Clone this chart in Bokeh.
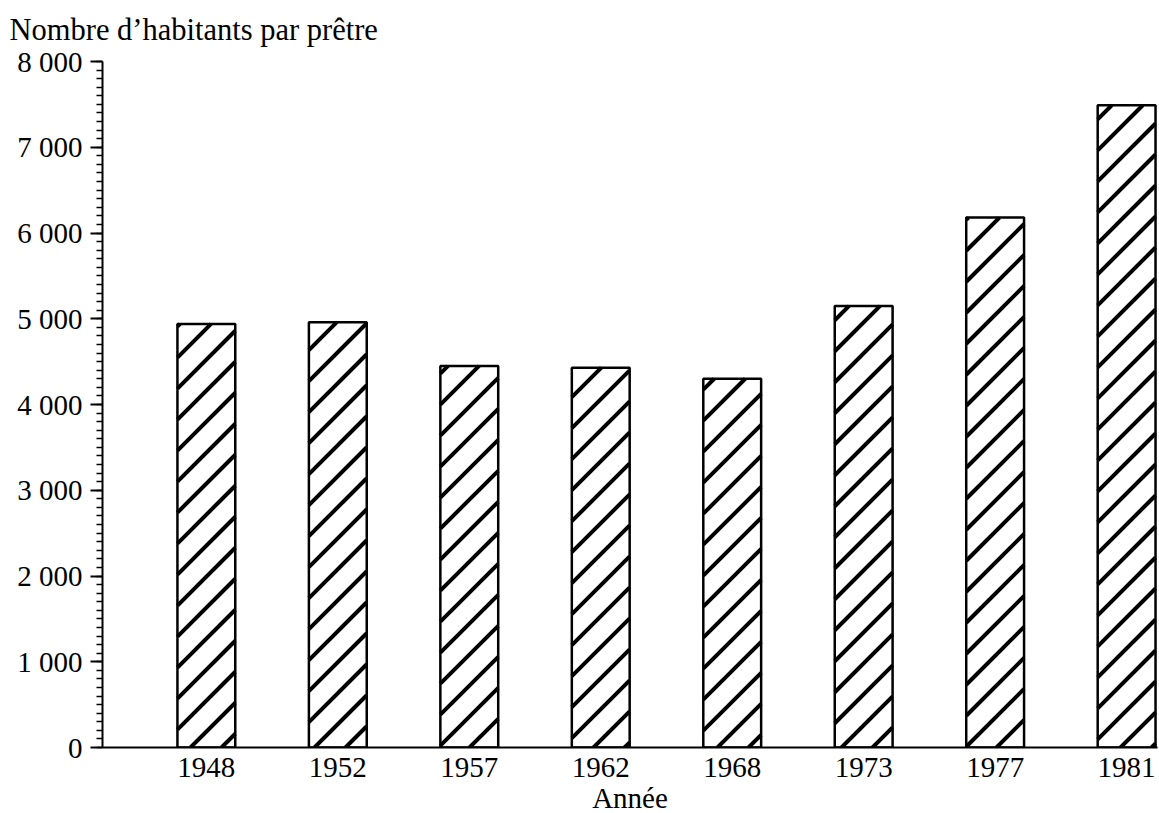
from bokeh.plotting import figure
from bokeh.models import Range1d, FixedTicker, SingleIntervalTicker, Title, ColumnDataSource
from bokeh.embed import file_html
from bokeh.resources import INLINE

years = ["1948", "1952", "1957", "1962", "1968", "1973", "1977", "1981"]
habitants = [4940, 4960, 4450, 4430, 4300, 5150, 6180, 7490]
y_ticks = [0, 1000, 2000, 3000, 4000, 5000, 6000, 7000, 8000]
y_tick_labels = ["0", "1 000", "2 000", "3 000", "4 000", "5 000", "6 000", "7 000", "8 000"]

FONT = "Liberation Serif"

# layout (pixels) and ranges
W, H = 1159, 813
FL, FR, FT, FB = 102, 1157, 61, 747
X0, X1 = -0.79, 7.235
Y0, Y1 = 0, 8000
BAR_W = 0.44
HATCH_STEP = 31      # px between hatch lines (horizontal / vertical period)
HATCH_PHASE = 7

idx = list(range(len(years)))
src = ColumnDataSource(dict(x=idx, top=habitants, year=years))

# 45-degree hatch lines, computed in pixel space and mapped back to data space
ppx = (FR - FL) / (X1 - X0)
ppy = (FB - FT) / (Y1 - Y0)
hx0, hy0, hx1, hy1 = [], [], [], []
for i, v in zip(idx, habitants):
    px0 = FL + (i - BAR_W / 2 - X0) * ppx
    px1 = FL + (i + BAR_W / 2 - X0) * ppx
    py0 = FB - (v - Y0) * ppy   # top (screen)
    py1 = FB                    # bottom (screen)
    kmin = int((px0 + py0 - HATCH_PHASE) // HATCH_STEP)
    kmax = int((px1 + py1 - HATCH_PHASE) // HATCH_STEP) + 1
    for k in range(kmin, kmax + 1):
        c = k * HATCH_STEP + HATCH_PHASE
        lo = max(px0, c - py1)
        hi = min(px1, c - py0)
        if hi - lo > 0.5:
            hx0.append(X0 + (lo - FL) / ppx)
            hy0.append(Y0 + (FB - (c - lo)) / ppy)
            hx1.append(X0 + (hi - FL) / ppx)
            hy1.append(Y0 + (FB - (c - hi)) / ppy)

p = figure(width=W, height=H, output_backend="svg", toolbar_location=None,
           x_range=Range1d(X0, X1), y_range=Range1d(Y0, Y1),
           min_border_left=FL, min_border_right=W - FR, min_border_top=FT,
           min_border_bottom=H - FB)

p.vbar(x="x", top="top", width=BAR_W, source=src, fill_color="white", line_color=None)
p.segment(x0=hx0, y0=hy0, x1=hx1, y1=hy1, line_color="black", line_width=4, line_cap="butt")
p.vbar(x="x", top="top", width=BAR_W, source=src, fill_color=None,
       line_color="black", line_width=2.5)

p.outline_line_color = None
p.xgrid.grid_line_color = None
p.ygrid.grid_line_color = None
p.background_fill_color = "white"
p.border_fill_color = "white"

# x axis
xa = p.xaxis[0]
xa.ticker = FixedTicker(ticks=idx)
xa.major_label_overrides = {i: y for i, y in zip(idx, years)}
xa.major_tick_line_color = None
xa.minor_tick_line_color = None
xa.axis_line_width = 2
xa.axis_line_color = "black"
xa.major_label_text_font = FONT
xa.major_label_text_font_size = "29px"
xa.major_label_text_color = "black"
xa.major_label_standoff = 4

# y axis
ya = p.yaxis[0]
ya.ticker = SingleIntervalTicker(interval=1000, num_minor_ticks=10)
ya.major_label_overrides = {t: l for t, l in zip(y_ticks, y_tick_labels)}
ya.axis_line_width = 2
ya.axis_line_color = "black"
ya.major_tick_line_width = 2
ya.major_tick_out = 12
ya.major_tick_in = 0
ya.minor_tick_line_width = 1.5
ya.minor_tick_out = 6
ya.minor_tick_in = 0
ya.major_label_text_font = FONT
ya.major_label_text_font_size = "29px"
ya.major_label_text_color = "black"
ya.major_label_standoff = 8

# title
p.title.text = "Nombre d\u2019habitants par prêtre"
p.title.text_font = FONT
p.title.text_font_size = "30.5px"
p.title.text_font_style = "normal"
p.title.text_color = "black"
p.title.align = "left"
p.title.vertical_align = "top"
p.title.offset = -93
p.title.standoff = 25

# x axis title, centred under the bars
p.add_layout(Title(text="Année", text_font=FONT, text_font_size="29px",
                   text_font_style="normal", text_color="black",
                   align="center", offset=40, standoff=0), "below")

open("out.html", "w").write(file_html(p, INLINE))
